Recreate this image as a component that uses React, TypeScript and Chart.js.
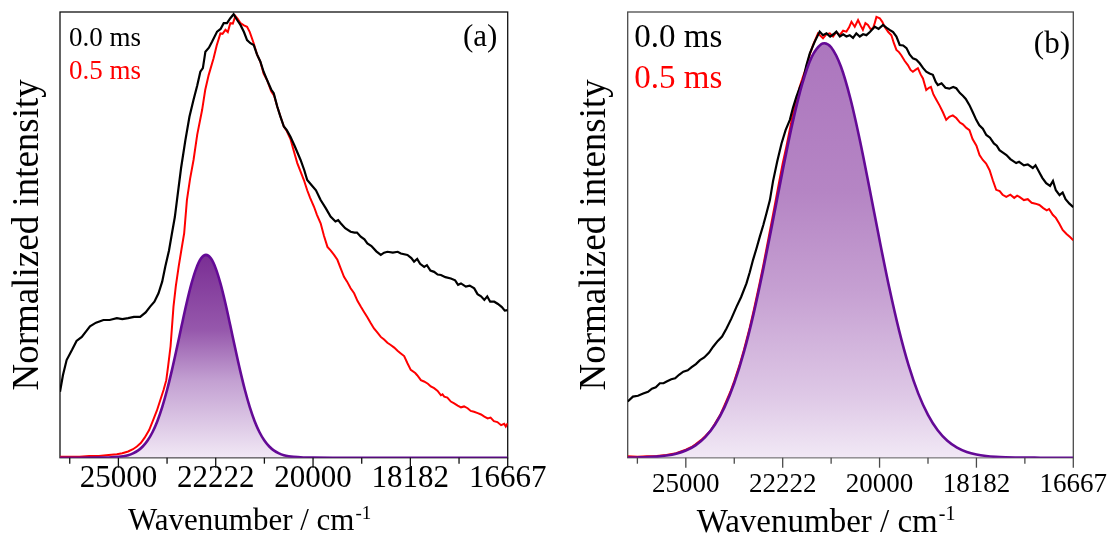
import React, { useEffect, useRef } from 'react';
import { Chart, registerables } from 'chart.js';
Chart.register(...registerables);

// ---------- axis data ----------
const X_MIN = 370;
const X_MAX = 600;
const majorNm = [400, 450, 500, 550, 600];
const minorNm = [375, 425, 475, 525, 575];
const tickLabels = ['25000', '22222', '20000', '18182', '16667'];
const legendLabels = ['0.0 ms', '0.5 ms'];

// ---------- panel (a) ----------
const aBlackNm = [370, 371.5, 373.4, 376.2, 378.5, 381.2, 383.5, 385.4, 388.5, 392.3, 395.5, 399.2, 402, 405, 408, 411.2, 414, 416.3, 418.5, 420.6, 422.5, 424.1, 426, 427.5, 429, 430.1, 432.2, 434.4, 436.5, 438.6, 440.5, 442.1, 443.4, 444.7, 446.5, 448.1, 450.7, 452.5, 454.1, 455.8, 457.5, 459.2, 461, 462.7, 464.5, 466.1, 467.8, 469.5, 471.2, 472.9, 474.6, 476.4, 478.5, 479.8, 481.6, 483.2, 485, 486.5, 488.4, 490.5, 493.6, 495.5, 497, 499.5, 501.5, 503.9, 506.5, 509, 511.5, 512.9, 514.2, 516.5, 519.3, 521.3, 522.6, 524.5, 526.4, 527.9, 530, 532.5, 534.8, 536.5, 538.2, 541, 543.5, 545.1, 548.5, 550.5, 551.9, 553.5, 555, 557.1, 558.5, 560.3, 562.2, 564, 565.7, 568, 570.8, 573, 574.5, 576, 578.5, 580.5, 582.8, 584.5, 586.3, 588, 589.5, 591, 593.1, 595, 597, 598.5, 600];
const aBlackVal = [0.148, 0.185, 0.219, 0.242, 0.262, 0.271, 0.284, 0.295, 0.303, 0.309, 0.309, 0.313, 0.311, 0.313, 0.316, 0.316, 0.326, 0.339, 0.350, 0.369, 0.395, 0.429, 0.465, 0.503, 0.540, 0.578, 0.650, 0.712, 0.765, 0.803, 0.835, 0.866, 0.874, 0.911, 0.920, 0.933, 0.956, 0.962, 0.975, 0.975, 0.986, 0.995, 0.982, 0.971, 0.955, 0.937, 0.930, 0.926, 0.905, 0.889, 0.866, 0.847, 0.826, 0.818, 0.788, 0.766, 0.743, 0.735, 0.720, 0.700, 0.668, 0.645, 0.623, 0.610, 0.600, 0.578, 0.560, 0.541, 0.530, 0.533, 0.526, 0.515, 0.507, 0.505, 0.505, 0.496, 0.490, 0.481, 0.475, 0.463, 0.455, 0.460, 0.462, 0.460, 0.462, 0.458, 0.455, 0.448, 0.440, 0.446, 0.435, 0.428, 0.432, 0.420, 0.417, 0.411, 0.410, 0.405, 0.402, 0.398, 0.388, 0.391, 0.384, 0.386, 0.380, 0.367, 0.362, 0.354, 0.362, 0.350, 0.350, 0.345, 0.338, 0.330, 0.331];

const aRedNm = [370, 380, 385, 390, 395, 399.2, 402, 405, 407.5, 409.5, 411.5, 413.5, 415.8, 417.9, 419.8, 421.5, 423.2, 424.6, 425.5, 426.8, 428.3, 429.5, 431, 432.5, 433.8, 435.2, 436.8, 438.6, 440.5, 443, 444.6, 446.4, 448.9, 450.5, 452.4, 453.5, 455, 456.2, 457.5, 458.8, 460.1, 461.2, 462.7, 464.5, 466.1, 467.5, 469.5, 471.2, 472.9, 474.6, 476.4, 478.5, 480, 481.6, 483.2, 485, 486.5, 488.4, 490, 491.9, 493.6, 495.3, 497, 498.5, 500.5, 502, 503.9, 505.6, 507.4, 509, 510.8, 512.5, 514.2, 515.9, 517.5, 519.3, 521.1, 522.8, 524.5, 526.2, 527.9, 529.6, 531.3, 533, 534.8, 536.5, 538.2, 539.9, 541.7, 543.4, 545.1, 546.8, 548.5, 550.2, 552.5, 553.5, 555.4, 557, 559, 560.5, 562.2, 564, 565.7, 566.5, 567.4, 569, 570.8, 572.5, 574.3, 576, 577.6, 579.4, 581, 582.7, 584.6, 586.3, 588, 589.7, 591.2, 592.9, 594.7, 596.6, 598.2, 599, 600];
const aRedVal = [0.002, 0.002, 0.004, 0.004, 0.006, 0.008, 0.010, 0.014, 0.019, 0.025, 0.033, 0.045, 0.062, 0.085, 0.106, 0.129, 0.152, 0.174, 0.204, 0.250, 0.339, 0.385, 0.430, 0.470, 0.504, 0.578, 0.625, 0.668, 0.725, 0.780, 0.825, 0.859, 0.896, 0.925, 0.952, 0.951, 0.960, 0.955, 0.975, 0.974, 0.991, 0.985, 0.975, 0.970, 0.967, 0.955, 0.930, 0.905, 0.889, 0.862, 0.847, 0.822, 0.812, 0.788, 0.766, 0.743, 0.733, 0.715, 0.690, 0.661, 0.642, 0.623, 0.600, 0.583, 0.563, 0.545, 0.526, 0.498, 0.473, 0.465, 0.455, 0.444, 0.425, 0.406, 0.395, 0.380, 0.369, 0.352, 0.339, 0.327, 0.315, 0.302, 0.290, 0.281, 0.271, 0.265, 0.258, 0.253, 0.247, 0.240, 0.234, 0.228, 0.212, 0.197, 0.190, 0.185, 0.174, 0.171, 0.166, 0.160, 0.156, 0.150, 0.140, 0.142, 0.137, 0.135, 0.126, 0.122, 0.117, 0.113, 0.115, 0.111, 0.105, 0.103, 0.100, 0.097, 0.092, 0.088, 0.090, 0.082, 0.080, 0.073, 0.076, 0.070, 0.077];

const aFitNm = [370, 380, 390, 395, 400, 402.5, 405, 407.5, 410, 412.5, 415, 417.5, 420, 422.5, 425, 427.5, 430, 432.5, 435, 437.5, 440, 442.5, 445, 447.5, 450, 452.5, 455, 457.5, 460, 462.5, 465, 467.5, 470, 472.5, 475, 477.5, 480, 482.5, 485, 487.5, 490, 495, 500, 510, 600];
const aFitVal = [0, 0, 0.0001, 0.0005, 0.0018, 0.0032, 0.0056, 0.0096, 0.0158, 0.0251, 0.0385, 0.0571, 0.0819, 0.1135, 0.1518, 0.1964, 0.2454, 0.2964, 0.3459, 0.3899, 0.4248, 0.4473, 0.4550, 0.4473, 0.4248, 0.3899, 0.3459, 0.2964, 0.2454, 0.1964, 0.1518, 0.1135, 0.0819, 0.0571, 0.0385, 0.0251, 0.0158, 0.0096, 0.0056, 0.0032, 0.0018, 0.0005, 0.0001, 0, 0];

// ---------- panel (b) ----------
const bBlackNm = [370, 372.7, 375.3, 378, 380.5, 382.5, 384.5, 386.6, 388.5, 390.1, 392.5, 394.5, 396.5, 398.7, 401, 403, 405.2, 407.3, 409.5, 412, 414.1, 416.5, 418.7, 421, 423.5, 426.2, 428.5, 431.3, 433, 434.7, 436.5, 438.2, 440, 441.6, 443.4, 445, 447.2, 449.4, 451.5, 453.7, 455.3, 457.1, 458.8, 460.5, 462.2, 464, 466.5, 469.1, 470.8, 472.6, 474.5, 476.2, 477.7, 479.5, 481.2, 482.9, 484.6, 486.3, 488, 489.8, 491.5, 493.2, 495, 497.5, 499.5, 501.8, 503.5, 505.2, 507, 508.7, 510.4, 512.2, 513.9, 515.5, 517.2, 519, 520.7, 522.5, 524.1, 525.8, 527.5, 529, 530.1, 532, 534, 536, 538, 539.6, 541.5, 543, 544.5, 546.4, 548, 549.9, 551.5, 553.3, 555.1, 557, 559, 560.5, 561.9, 563.5, 565.5, 567.5, 570.5, 572, 574.5, 576.5, 579.1, 580.5, 582.5, 584, 586, 588, 589.5, 591, 592.9, 594.5, 596, 598, 600];
const bBlackVal = [0.126, 0.137, 0.139, 0.144, 0.148, 0.155, 0.158, 0.167, 0.167, 0.171, 0.176, 0.178, 0.186, 0.193, 0.196, 0.203, 0.210, 0.219, 0.225, 0.236, 0.249, 0.262, 0.272, 0.290, 0.312, 0.339, 0.360, 0.391, 0.416, 0.444, 0.470, 0.496, 0.522, 0.548, 0.578, 0.620, 0.665, 0.705, 0.735, 0.758, 0.785, 0.810, 0.830, 0.847, 0.880, 0.907, 0.933, 0.956, 0.948, 0.952, 0.945, 0.950, 0.956, 0.945, 0.950, 0.945, 0.948, 0.942, 0.952, 0.945, 0.950, 0.948, 0.955, 0.967, 0.962, 0.971, 0.965, 0.960, 0.955, 0.945, 0.926, 0.925, 0.919, 0.905, 0.896, 0.893, 0.885, 0.874, 0.866, 0.862, 0.859, 0.843, 0.836, 0.840, 0.830, 0.828, 0.832, 0.829, 0.818, 0.812, 0.805, 0.791, 0.776, 0.758, 0.746, 0.738, 0.724, 0.718, 0.705, 0.700, 0.690, 0.685, 0.679, 0.670, 0.661, 0.664, 0.656, 0.658, 0.650, 0.656, 0.640, 0.628, 0.616, 0.610, 0.621, 0.600, 0.589, 0.595, 0.580, 0.570, 0.562];

const bRedNm = [370, 375, 380, 385, 390, 395, 400, 403, 405, 408, 410, 413, 415, 418, 420, 423, 425, 428, 430, 433, 435, 438, 440, 443, 445, 448, 450, 452, 455, 457, 458.8, 460.5, 462.3, 464, 465.7, 468.2, 470.8, 472.5, 474.3, 476, 477.7, 479.4, 481.2, 482.9, 484.2, 485.5, 487.2, 488.9, 490.2, 491.4, 492.7, 494, 495.3, 496.6, 497.5, 498.4, 500.1, 501.4, 502.6, 504.5, 506.1, 507.4, 508.7, 510, 511.2, 513, 514.6, 516, 517.2, 518.5, 519.8, 521.2, 522.4, 524.1, 525.5, 526.5, 527.8, 529.3, 531, 532.7, 534.4, 536, 537.8, 539.6, 541.5, 543, 544.8, 546.4, 548, 550, 551.6, 553.3, 555, 556.8, 558.5, 560.2, 562, 563.5, 565.4, 567.5, 569.5, 571, 572.2, 574.5, 576.5, 578.5, 580.5, 582.5, 584.5, 586.3, 587.5, 589.4, 591, 592.8, 594.5, 596.5, 598.3, 600];
const bRedVal = [0.003, 0.002, 0.003, 0.004, 0.006, 0.010, 0.018, 0.024, 0.030, 0.040, 0.048, 0.062, 0.076, 0.098, 0.118, 0.148, 0.172, 0.212, 0.242, 0.292, 0.330, 0.390, 0.432, 0.500, 0.545, 0.615, 0.660, 0.700, 0.765, 0.800, 0.832, 0.855, 0.877, 0.905, 0.926, 0.952, 0.941, 0.950, 0.952, 0.945, 0.955, 0.948, 0.958, 0.956, 0.965, 0.978, 0.967, 0.982, 0.970, 0.960, 0.975, 0.971, 0.962, 0.963, 0.975, 0.989, 0.986, 0.978, 0.967, 0.955, 0.948, 0.930, 0.915, 0.910, 0.903, 0.890, 0.881, 0.870, 0.866, 0.870, 0.874, 0.860, 0.851, 0.825, 0.830, 0.832, 0.815, 0.803, 0.790, 0.775, 0.758, 0.765, 0.768, 0.762, 0.752, 0.748, 0.740, 0.735, 0.715, 0.700, 0.679, 0.668, 0.660, 0.645, 0.622, 0.601, 0.598, 0.590, 0.585, 0.590, 0.583, 0.588, 0.585, 0.578, 0.580, 0.572, 0.570, 0.567, 0.560, 0.555, 0.558, 0.545, 0.538, 0.525, 0.511, 0.502, 0.495, 0.488];

const bFitNm = [370, 375, 380, 385, 390, 395, 400, 405, 410, 415, 420, 425, 430, 435, 440, 445, 450, 455, 460, 465, 470, 471.5, 475, 480, 485, 490, 495, 500, 505, 510, 515, 520, 525, 530, 535, 540, 545, 550, 555, 560, 565, 570, 575, 580, 590, 600];
const bFitVal = [0.0003, 0.0006, 0.0012, 0.0025, 0.0048, 0.0089, 0.0161, 0.0278, 0.0463, 0.0738, 0.1134, 0.1672, 0.2371, 0.3231, 0.4232, 0.5326, 0.6444, 0.7493, 0.8374, 0.8993, 0.9283, 0.9300, 0.9210, 0.8782, 0.8048, 0.7089, 0.6000, 0.4882, 0.3817, 0.2868, 0.2071, 0.1438, 0.0960, 0.0615, 0.0379, 0.0225, 0.0128, 0.0070, 0.0037, 0.0019, 0.0009, 0.0004, 0.0002, 0.0001, 0, 0];

// ---------- styles ----------
const FONT = '"Liberation Serif", "Times New Roman", serif';
const CANVAS_W = 555;
const CANVAS_H = 538;

type PanelStyle = {
  padLeft: number; padRight: number; padTop: number; xAxisH: number;
  frameColor: string; tickColor: string;
  tickFont: number; tickPad: number;
  xTitleFont: number; xTitleDx: number; xTitleDy: number;
  yTitleFont: number; yTitleDx: number;
  legendFont: number; legendDx: number; legendDy: number[];
  label: string; labelFont: number; labelDx: number; labelDy: number;
  gradStops: [number, string][];
};

const styleA: PanelStyle = {
  padLeft: 60, padRight: 47.3, padTop: 12, xAxisH: 80.3,
  frameColor: '#111', tickColor: '#111',
  tickFont: 31, tickPad: 3,
  xTitleFont: 31, xTitleDx: 68, xTitleDy: 72.5,
  yTitleFont: 37, yTitleDx: 32,
  legendFont: 27, legendDx: 9, legendDy: [33.7, 67],
  label: '(a)', labelFont: 31, labelDx: 10.4, labelDy: 34,
  gradStops: [[0, 'rgb(122,46,148)'], [0.37, 'rgb(150,88,172)'], [0.62, 'rgb(195,160,210)'], [1, 'rgb(241,232,245)']],
};
const styleB: PanelStyle = {
  padLeft: 72.7, padRight: 36.7, padTop: 12, xAxisH: 80.3,
  frameColor: '#4a4a4a', tickColor: '#4a4a4a',
  tickFont: 27, tickPad: 11.5,
  xTitleFont: 33, xTitleDx: 69, xTitleDy: 74,
  yTitleFont: 37, yTitleDx: 32,
  legendFont: 33, legendDx: 6.6, legendDy: [34.7, 76.3],
  label: '(b)', labelFont: 31, labelDx: 3.3, labelDy: 41,
  gradStops: [[0, 'rgb(172,118,190)'], [0.36, 'rgb(181,133,196)'], [0.6, 'rgb(198,160,210)'], [0.85, 'rgb(222,200,230)'], [1, 'rgb(241,232,245)']],
};

function pts(xs: number[], ys: number[]) {
  return xs.map((x, i) => ({ x, y: ys[i] }));
}

const decorPlugin = {
  id: 'decor',
  beforeDatasetsDraw(chart: any, _a: any, opts: any) {
    const s: PanelStyle = opts.style;
    const { left, top, right, bottom } = chart.chartArea;
    const ctx = chart.ctx;
    ctx.save();
    ctx.strokeStyle = s.frameColor;
    ctx.lineWidth = 1.3;
    ctx.strokeRect(left, top, right - left, bottom - top);
    ctx.restore();
  },
  afterDraw(chart: any, _a: any, opts: any) {
    const s: PanelStyle = opts.style;
    const { left, top, right, bottom } = chart.chartArea;
    const ctx = chart.ctx;
    const xs = chart.scales.x;
    ctx.save();
    // ticks
    ctx.strokeStyle = s.tickColor;
    ctx.lineWidth = 1.3;
    majorNm.forEach((v) => {
      const px = xs.getPixelForValue(v);
      ctx.beginPath(); ctx.moveTo(px, bottom); ctx.lineTo(px, bottom + 10); ctx.stroke();
    });
    minorNm.forEach((v) => {
      const px = xs.getPixelForValue(v);
      ctx.beginPath(); ctx.moveTo(px, bottom); ctx.lineTo(px, bottom + 6); ctx.stroke();
    });
    // x title with superscript
    ctx.fillStyle = '#000';
    ctx.textBaseline = 'alphabetic';
    ctx.textAlign = 'left';
    ctx.font = `${s.xTitleFont}px ${FONT}`;
    const main = 'Wavenumber / cm';
    const tx = left + s.xTitleDx;
    const ty = bottom + s.xTitleDy;
    ctx.fillText(main, tx, ty);
    const w = ctx.measureText(main).width;
    ctx.font = `${Math.round(s.xTitleFont * 0.6)}px ${FONT}`;
    ctx.fillText('-1', tx + w + 1, ty - s.xTitleFont * 0.36);
    // y title
    ctx.save();
    ctx.translate(left - s.yTitleDx, (top + bottom) / 2);
    ctx.rotate(-Math.PI / 2);
    ctx.font = `${s.yTitleFont}px ${FONT}`;
    ctx.textAlign = 'center';
    ctx.textBaseline = 'middle';
    ctx.fillText('Normalized intensity', 0, 0);
    ctx.restore();
    // legend
    ctx.font = `${s.legendFont}px ${FONT}`;
    ctx.textAlign = 'left';
    ctx.textBaseline = 'alphabetic';
    const colors = ['#000000', '#ff0000'];
    legendLabels.forEach((t, i) => {
      ctx.fillStyle = colors[i];
      ctx.fillText(t, left + s.legendDx, top + s.legendDy[i]);
    });
    // panel label
    ctx.fillStyle = '#000';
    ctx.font = `${s.labelFont}px ${FONT}`;
    ctx.textAlign = 'right';
    ctx.fillText(s.label, right - s.labelDx, top + s.labelDy);
    ctx.restore();
  },
};

function makeConfig(style: PanelStyle, black: any[], red: any[], fit: any[], fitMax: number): any {
  return {
    type: 'line',
    data: {
      datasets: [
        {
          label: 'fit', data: fit, borderColor: '#640a96', borderWidth: 2.6,
          pointRadius: 0, cubicInterpolationMode: 'monotone', fill: 'origin', order: 0,
          backgroundColor: (c: any) => {
            const chart = c.chart;
            const area = chart.chartArea;
            if (!area) return 'rgba(0,0,0,0)';
            const yTop = chart.scales.y.getPixelForValue(fitMax);
            const g = chart.ctx.createLinearGradient(0, yTop, 0, area.bottom);
            style.gradStops.forEach(([o, col]) => g.addColorStop(o, col));
            return g;
          },
        },
        { label: '0.0 ms', data: black, borderColor: '#000000', borderWidth: 2.2, pointRadius: 0, tension: 0, fill: false, order: 1 },
        { label: '0.5 ms', data: red, borderColor: '#ff0000', borderWidth: 2, pointRadius: 0, tension: 0, fill: false, order: 2 },
      ],
    },
    options: {
      animation: false,
      responsive: false,
      devicePixelRatio: 1,
      events: [],
      layout: { padding: { left: style.padLeft, right: style.padRight, top: style.padTop, bottom: 0 } },
      plugins: { legend: { display: false }, tooltip: { enabled: false }, decor: { style } },
      scales: {
        x: {
          type: 'linear', min: X_MIN, max: X_MAX,
          afterBuildTicks: (sc: any) => { sc.ticks = majorNm.map((v) => ({ value: v })); },
          afterFit: (sc: any) => { sc.height = style.xAxisH; sc.paddingLeft = 0; sc.paddingRight = 0; },
          grid: { display: false, drawTicks: false },
          border: { display: false },
          ticks: {
            autoSkip: false, maxRotation: 0, minRotation: 0, padding: style.tickPad, color: '#000',
            font: { family: FONT, size: style.tickFont },
            callback: (_v: any, i: number) => tickLabels[i],
          },
        },
        y: { type: 'linear', min: 0, max: 1, display: false },
      },
    },
    plugins: [decorPlugin],
  };
}

function Panel({ style, left, black, red, fit, fitMax }: any) {
  const ref = useRef<HTMLCanvasElement | null>(null);
  useEffect(() => {
    if (!ref.current) return;
    const chart = new Chart(ref.current, makeConfig(style, black, red, fit, fitMax));
    return () => chart.destroy();
  }, []);
  return (
    <canvas
      ref={ref}
      width={CANVAS_W}
      height={CANVAS_H}
      style={{ position: 'absolute', left, top: 0, width: CANVAS_W, height: CANVAS_H }}
    />
  );
}

export default function App() {
  return (
    <div style={{ position: 'fixed', left: 0, top: 0, width: 1110, height: 538, background: '#fff' }}>
      <Panel style={styleA} left={0} black={pts(aBlackNm, aBlackVal)} red={pts(aRedNm, aRedVal)} fit={pts(aFitNm, aFitVal)} fitMax={Math.max(...aFitVal)} />
      <Panel style={styleB} left={555} black={pts(bBlackNm, bBlackVal)} red={pts(bRedNm, bRedVal)} fit={pts(bFitNm, bFitVal)} fitMax={Math.max(...bFitVal)} />
    </div>
  );
}
